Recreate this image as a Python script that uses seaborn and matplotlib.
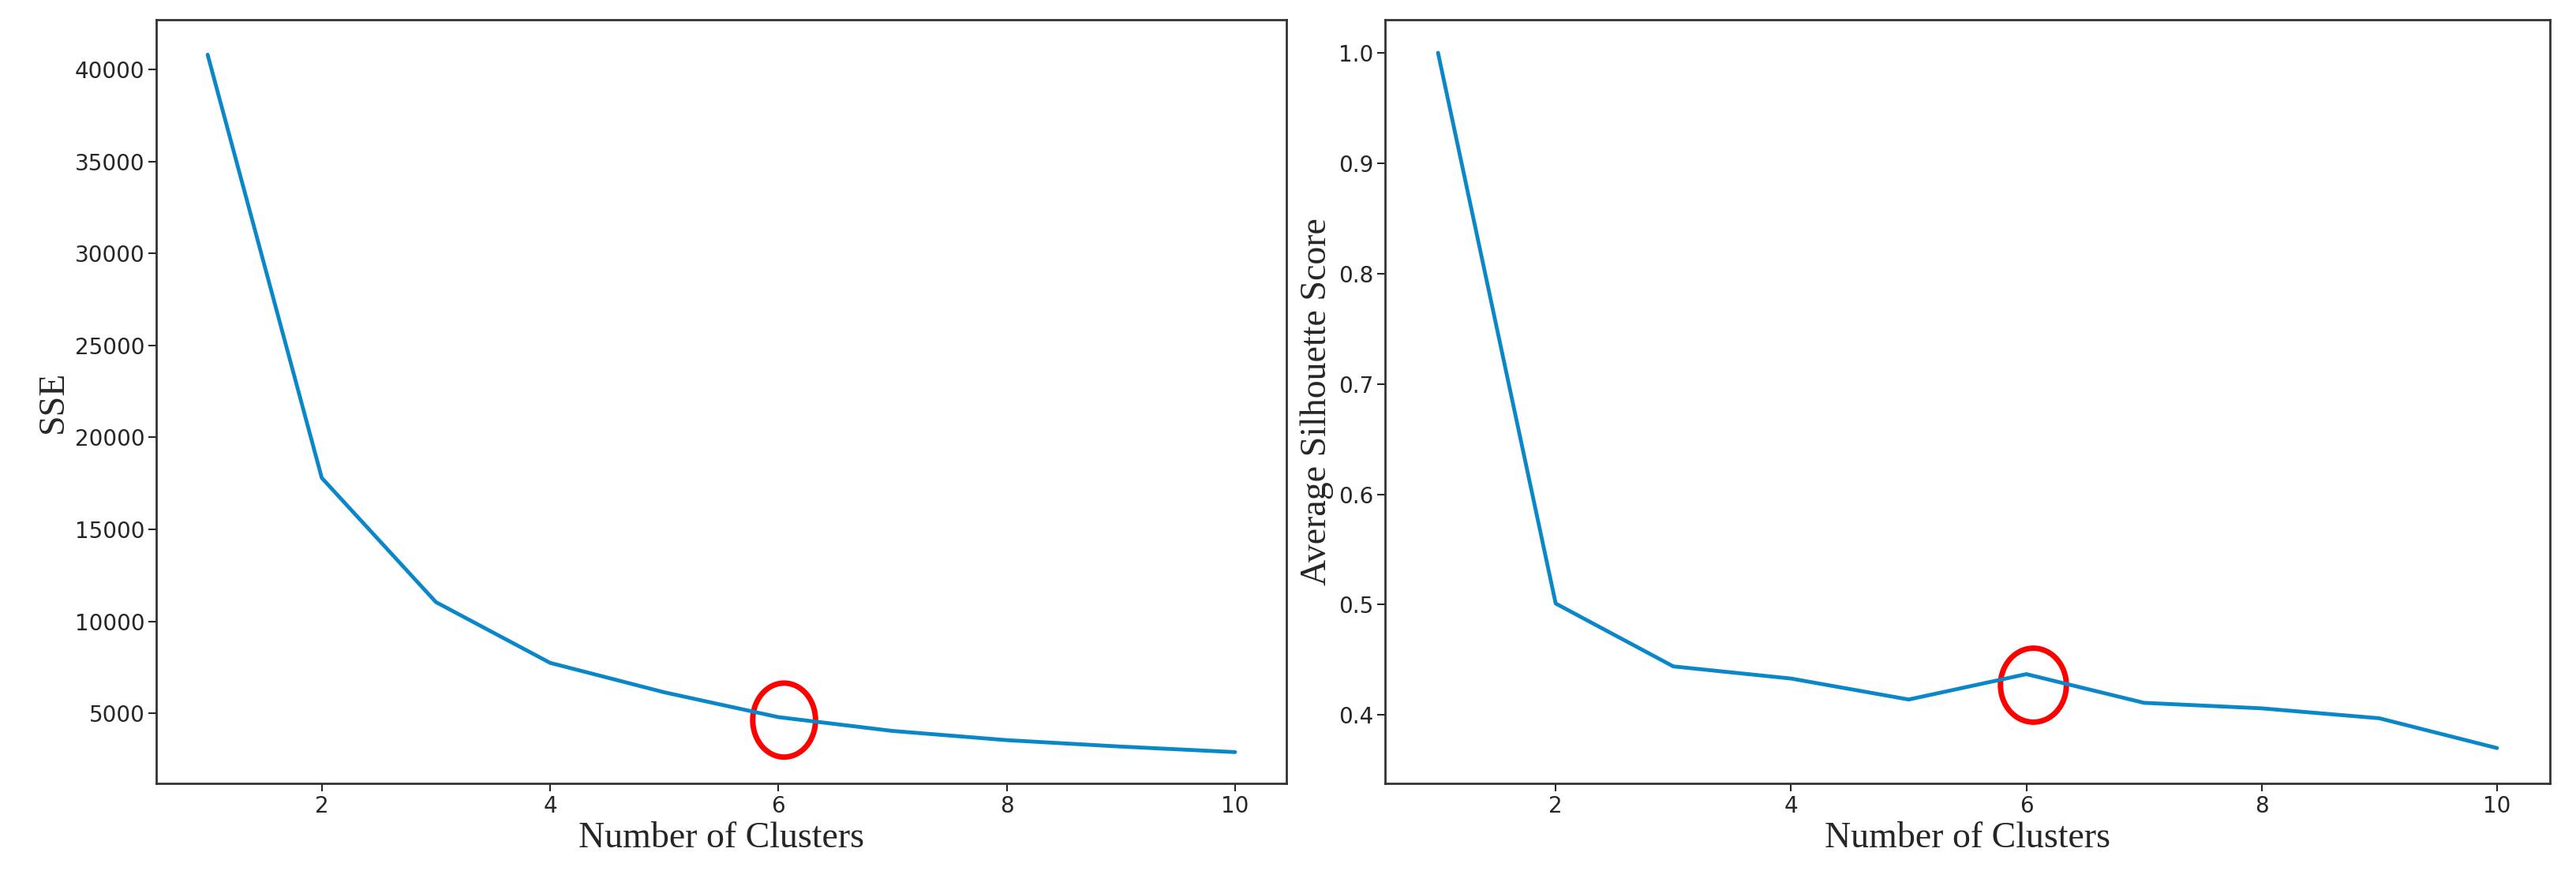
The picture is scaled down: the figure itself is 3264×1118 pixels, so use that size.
import matplotlib
matplotlib.use("Agg")
import matplotlib.pyplot as plt
from matplotlib.patches import Ellipse
import seaborn as sns

clusters = [1, 2, 3, 4, 5, 6, 7, 8, 9, 10]
sse = [40800, 17800, 11050, 7750, 6150, 4800, 4050, 3550, 3200, 2900]
silhouette = [1.0, 0.501, 0.444, 0.433, 0.414, 0.437, 0.411, 0.406, 0.397, 0.370]

line_color = "#0a87c8"

sns.set_style("ticks")
plt.rcParams["font.family"] = ["DejaVu Sans"]

fig = plt.figure(figsize=(32.64, 11.18), dpi=100)
ax1 = fig.add_axes([198 / 3264, 1 - 993 / 1118, (1630 - 198) / 3264, (993 - 25) / 1118])
ax2 = fig.add_axes([1755 / 3264, 1 - 993 / 1118, (3231 - 1755) / 3264, (993 - 25) / 1118])

sns.lineplot(x=clusters, y=sse, ax=ax1, color=line_color, linewidth=3.5)
sns.lineplot(x=clusters, y=silhouette, ax=ax2, color=line_color, linewidth=3.5)

ax1.add_patch(Ellipse((6.05, 4640), 0.55, 4020, fill=False, edgecolor="red", linewidth=5))
ax2.add_patch(Ellipse((6.06, 0.427), 0.56, 0.067, fill=False, edgecolor="red", linewidth=5))

ax1.set_ylabel("SSE")
ax2.set_ylabel("Average Silhouette Score")
ax1.set_yticks([5000, 10000, 15000, 20000, 25000, 30000, 35000, 40000])
ax2.set_yticks([0.4, 0.5, 0.6, 0.7, 0.8, 0.9, 1.0])

for ax in (ax1, ax2):
    ax.set_xlabel("Number of Clusters", labelpad=4)
    ax.set_xticks([2, 4, 6, 8, 10])
    ax.xaxis.label.set_fontfamily("Liberation Serif")
    ax.yaxis.label.set_fontfamily("Liberation Serif")
    ax.xaxis.label.set_fontsize(33)
    ax.yaxis.label.set_fontsize(33)
    ax.tick_params(labelsize=20, width=1.5, length=7)
    for s in ax.spines.values():
        s.set_linewidth(2)
        s.set_color("#333333")

ax1.set_ylim(1200, 42700)
ax2.set_ylim(0.338, 1.03)
ax1.set_xlim(0.55, 10.45)
ax2.set_xlim(0.55, 10.45)

fig.savefig("out.png", dpi=100)
